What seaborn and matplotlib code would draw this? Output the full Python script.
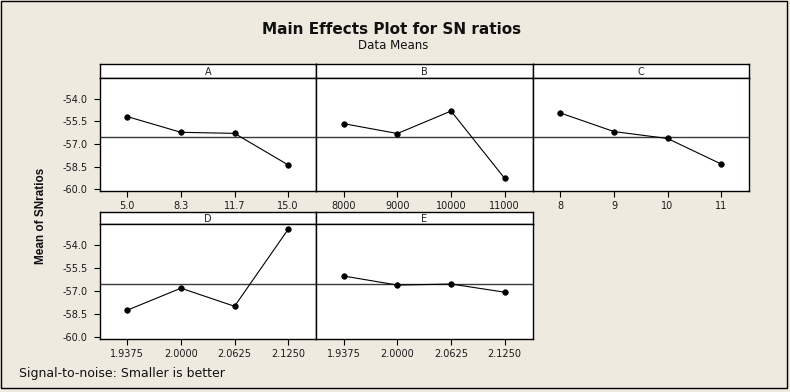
import matplotlib
matplotlib.use("Agg")
import matplotlib.pyplot as plt
from matplotlib import font_manager
import seaborn as sns
import pandas as pd
from matplotlib.patches import Rectangle

# ---- data ----
factors = ["A", "B", "C", "D", "E"]
levels_A = ["5.0", "8.3", "11.7", "15.0"]
levels_B = ["8000", "9000", "10000", "11000"]
levels_C = ["8", "9", "10", "11"]
levels_D = ["1.9375", "2.0000", "2.0625", "2.1250"]
levels_E = ["1.9375", "2.0000", "2.0625", "2.1250"]
sn_A = [-55.19, -56.23, -56.30, -58.39]
sn_B = [-55.66, -56.31, -54.82, -59.28]
sn_C = [-54.95, -56.18, -56.64, -58.33]
sn_D = [-58.24, -56.81, -57.99, -52.98]
sn_E = [-56.02, -56.61, -56.54, -57.07]
overall_mean = -56.55
y_ticks = [-54.0, -55.5, -57.0, -58.5, -60.0]

levels = dict(A=levels_A, B=levels_B, C=levels_C, D=levels_D, E=levels_E)
values = dict(A=sn_A, B=sn_B, C=sn_C, D=sn_D, E=sn_E)
rows = []
for f in factors:
    for i, (lv, v) in enumerate(zip(levels[f], values[f])):
        rows.append(dict(factor=f, level=lv, pos=i, sn=v))
df = pd.DataFrame(rows)

sns.set_theme(style="white")
plt.rcParams["font.family"] = ["DejaVu Sans"]

W, H = 790, 392
BG = "#EEEAE0"
fig = plt.figure(figsize=(W / 100, H / 100), dpi=100, facecolor=BG)

def px(x0, y0, x1, y1):
    return [x0 / W, 1 - y1 / H, (x1 - x0) / W, (y1 - y0) / H]

cols = [99.5, 316, 532.5, 749]
row_geo = [(64.3, 78.3, 191), (211.7, 224.3, 339)]
layout = {"A": (0, 0), "B": (0, 1), "C": (0, 2), "D": (1, 0), "E": (1, 1)}

for f in factors:
    r, c = layout[f]
    st, top, bot = row_geo[r]
    x0, x1 = cols[c], cols[c + 1]
    # strip
    sax = fig.add_axes(px(x0, st, x1, top))
    sax.set_facecolor("white")
    sax.set_xticks([]); sax.set_yticks([])
    for s in sax.spines.values():
        s.set_color("black"); s.set_linewidth(1)
    sax.text(0.5, 0.45, f, ha="center", va="center", fontsize=7,
             color="#222222", transform=sax.transAxes)
    # plot
    ax = fig.add_axes(px(x0, top, x1, bot))
    ax.set_facecolor("white")
    sub = df[df.factor == f]
    ax.axhline(overall_mean, color="#3a3a3a", lw=1, zorder=1)
    sns.lineplot(data=sub, x="pos", y="sn", ax=ax, color="black", lw=0.8,
                 marker="o", markersize=4, markeredgecolor="black",
                 markeredgewidth=0.5, zorder=3)
    ax.set_xlim(-0.52, 3.52)
    ax.set_ylim(-60.12, -52.65)
    ax.set_xticks(range(4))
    ax.set_xticklabels(levels[f])
    ax.set_yticks(y_ticks)
    if c == 0:
        ax.set_yticklabels([f"{t:.1f}" for t in y_ticks])
        ax.tick_params(axis="y", left=True)
    else:
        ax.set_yticklabels([])
        ax.tick_params(axis="y", left=False)
    ax.tick_params(axis="both", direction="out", length=4, width=0.8,
                   labelsize=7, colors="black", labelcolor="#1a1a1a")
    ax.tick_params(axis="x", bottom=True, pad=3.5)
    ax.tick_params(axis="y", pad=4.5)
    ax.set_xlabel(""); ax.set_ylabel("")
    for s in ax.spines.values():
        s.set_color("black"); s.set_linewidth(1)
    ax.grid(False)

fig.text(392 / W, 1 - 29 / H, "Main Effects Plot for SN ratios", ha="center",
         va="center", fontsize=11, fontweight="bold", color="#111111")
fig.text(393 / W, 1 - 45.5 / H, "Data Means", ha="center", va="center",
         fontsize=8.5, color="#111111")
fig.text(41 / W, 1 - 216 / H, "Mean of SNratios", rotation=90, ha="center",
         va="center", fontsize=8.5, fontweight="bold", color="#111111",
         family=["Liberation Sans"])
fig.text(19 / W, 1 - 373 / H, "Signal-to-noise: Smaller is better", ha="left",
         va="center", fontsize=9, color="#111111")

fig.patches.append(Rectangle((1 / W, 1 - 388 / H), 786 / W, 387 / H,
                             transform=fig.transFigure, fill=False,
                             edgecolor="black", lw=1))

fig.savefig("out.png", dpi=100, facecolor=BG)
